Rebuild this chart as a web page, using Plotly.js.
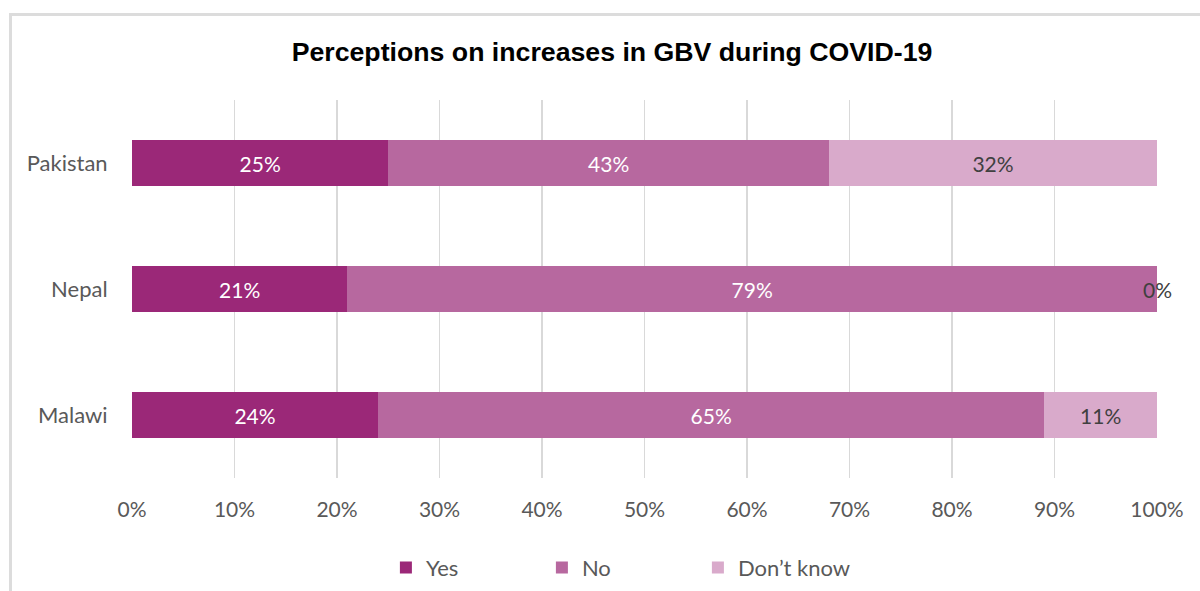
<!DOCTYPE html>
<html>
<head>
<meta charset="utf-8">
<script src="https://cdn.plot.ly/plotly-3.0.1.min.js"></script>
<style>
  html, body { margin: 0; padding: 0; background: #fff; }
  #chart { width: 1200px; height: 591px; }
  #frame { position: absolute; left: 9px; top: 13px; width: 1300px; height: 700px;
           border-left: 3px solid #dcdcdc; border-top: 3px solid #dcdcdc; pointer-events: none; }
</style>
</head>
<body>
<div id="chart"></div>
<div id="frame"></div>
<script>
const countries = ['Malawi', 'Nepal', 'Pakistan'];
const yesVals = [24, 21, 25];
const noVals = [65, 79, 43];
const dkVals = [11, 0, 32];
const seriesNames = ['Yes', 'No', 'Don\u2019t know'];
const seriesColors = ['#9B2878', '#B7689F', '#D9AACB'];
const xTickVals = [0, 10, 20, 30, 40, 50, 60, 70, 80, 90, 100];
const xTickText = ['0%', '10%', '20%', '30%', '40%', '50%', '60%', '70%', '80%', '90%', '100%'];

const FONT = 'Lato, "Open Sans", sans-serif';
const allVals = [yesVals, noVals, dkVals];
const textColors = ['#ffffff', '#ffffff', '#404040'];

const traces = allVals.map((vals, i) => ({
  type: 'bar',
  orientation: 'h',
  name: seriesNames[i],
  y: countries,
  x: vals,
  marker: { color: seriesColors[i], line: { width: 0 } },
  text: vals.map(v => v > 0 ? v + '%' : ''),
  textposition: 'inside',
  insidetextanchor: 'middle',
  textangle: 0,
  constraintext: 'none',
  textfont: { family: FONT, size: 21, color: textColors[i] },
  hoverinfo: 'skip'
}));

// labels for zero-width segments, positioned at the stack end
const annotations = [];
countries.forEach((c, j) => {
  if (dkVals[j] === 0) {
    annotations.push({
      x: yesVals[j] + noVals[j] + dkVals[j], y: c, xref: 'x', yref: 'y',
      text: dkVals[j] + '%', showarrow: false, xanchor: 'center', yanchor: 'middle',
      font: { family: FONT, size: 21, color: '#404040' }
    });
  }
});

const layout = {
  width: 1200, height: 591,
  paper_bgcolor: '#ffffff', plot_bgcolor: '#ffffff',
  margin: { l: 132, r: 43, t: 100, b: 113, autoexpand: false },
  barmode: 'stack',
  bargap: 0.64,
  title: {
    text: 'Perceptions on increases in GBV during COVID-19',
    x: 0.51, xanchor: 'center', y: 0.912, yanchor: 'middle',
    font: { family: '"Liberation Sans", Arial, sans-serif', size: 26.7, color: '#000000', weight: 'bold' }
  },
  xaxis: {
    range: [0, 100], tickvals: xTickVals, ticktext: xTickText,
    showgrid: true, gridcolor: '#d9d9d9', gridwidth: 1.5,
    zeroline: false, showline: false, automargin: false,
    ticks: 'outside', ticklen: 13, tickcolor: 'rgba(0,0,0,0)',
    tickfont: { family: FONT, size: 21, color: '#595959' },
    fixedrange: true
  },
  yaxis: {
    type: 'category', categoryorder: 'array', categoryarray: countries,
    range: [-0.5, 2.5], automargin: false,
    showgrid: false, zeroline: false, showline: false,
    ticks: 'outside', ticklen: 19, tickcolor: 'rgba(0,0,0,0)',
    tickfont: { family: FONT, size: 22, color: '#595959' },
    fixedrange: true
  },
  showlegend: true,
  legend: {
    orientation: 'h', x: 0.476, xanchor: 'center', y: 0.075, yref: 'container', yanchor: 'top',
    font: { family: FONT, size: 22, color: '#595959' },
    entrywidth: 111, entrywidthmode: 'pixels',
    traceorder: 'normal'
  },
  annotations: annotations
};

Plotly.newPlot('chart', traces, layout, { displayModeBar: false, staticPlot: true });
</script>
</body>
</html>
